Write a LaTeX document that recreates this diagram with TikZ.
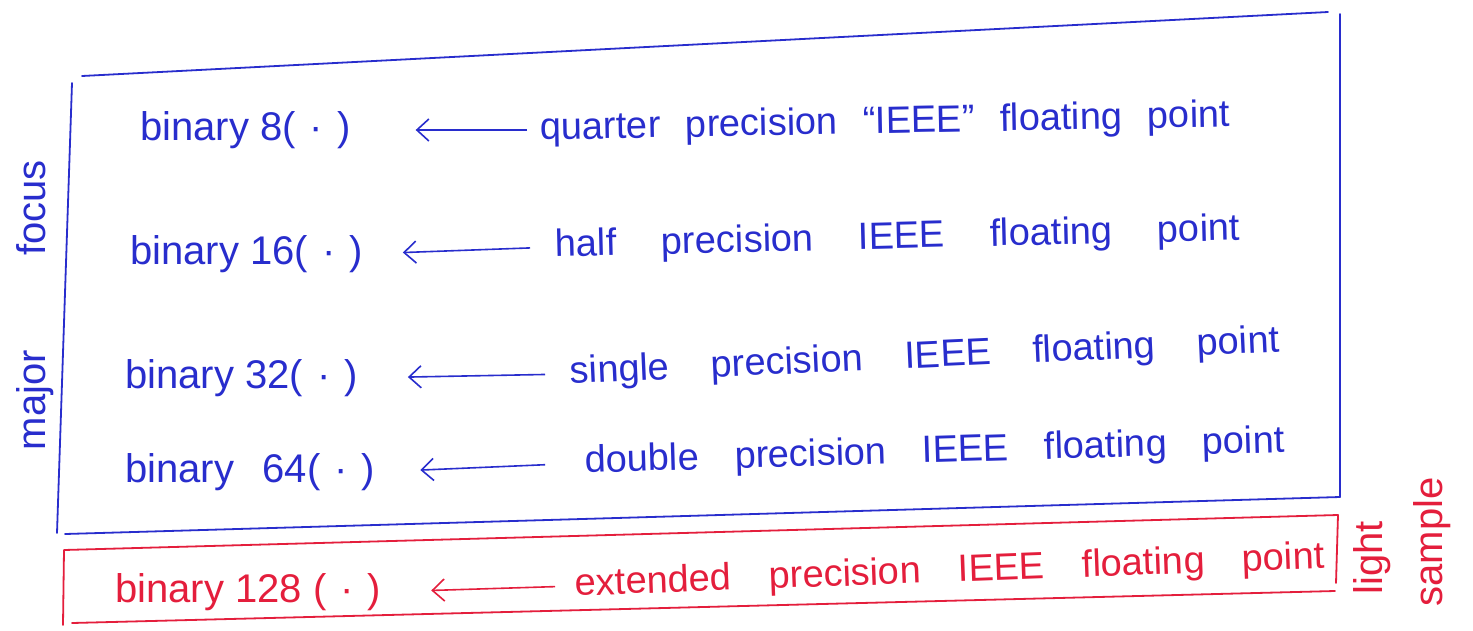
\documentclass[tikz,border=0pt]{standalone}
\usepackage{fontspec}
\setmainfont{Liberation Sans}
\usetikzlibrary{arrows.meta}
\definecolor{penblue}{RGB}{40,45,205}
\definecolor{penred}{RGB}{228,30,60}
\newcommand{\spread}[2]{\makebox[#1][s]{#2}}
\newcommand{\dotarg}{(\hspace{14pt}·\hspace{14pt})}
\begin{document}
\begin{tikzpicture}[x=1pt,y=-1pt,
  lbl/.style={anchor=west, inner sep=0pt, font=\fontsize{40}{46}\selectfont},
  desc/.style={anchor=west, inner sep=0pt, font=\fontsize{38}{44}\selectfont},
  side/.style={inner sep=0pt, rotate=90, font=\fontsize{40}{46}\selectfont},
  conn/.style={-{Straight Barb[length=12pt,width=22pt,line width=1.6pt]}, line width=1.6pt},
  frame/.style={line width=1.8pt, line cap=round, line join=round}]
\useasboundingbox[fill=white] (0,0) rectangle (1473,630);

% blue frame
\draw[frame,penblue] (82,76) -- (1328,12);
\draw[frame,penblue] (1340,14) -- (1340,497);
\draw[frame,penblue] (72,83) -- (57,533);
\draw[frame,penblue] (65,534) -- (1340,497);
% red frame
\draw[frame,penred] (63,625) -- (64,550) -- (1338,515) -- (1336,583);
\draw[frame,penred] (72,623) -- (1335,591);

% blue rows
\node[lbl,text=penblue] (l1) at (140,130) {binary 8\dotarg};
\node[desc,text=penblue,rotate=1.1] (r1) at (540,130) {\spread{690pt}{quarter precision ``IEEE'' floating point}};
\draw[conn,penblue,shorten <=13pt,shorten >=65pt] (r1.west) -- (l1.east);

\node[lbl,text=penblue] (l2) at (130,254) {binary 16\dotarg};
\node[desc,text=penblue,rotate=1.4] (r2) at (555,247) {\spread{685pt}{half precision IEEE floating point}};
\draw[conn,penblue,shorten <=25pt,shorten >=40pt] (r2.west) -- (l2.east);

\node[lbl,text=penblue] (l3) at (125,378) {binary 32\dotarg};
\node[desc,text=penblue,rotate=2.6] (r3) at (570,374) {\spread{710pt}{single precision IEEE floating point}};
\draw[conn,penblue,shorten <=25pt,shorten >=50pt] (r3.west) -- (l3.east);

\node[lbl,text=penblue] (l4) at (125,472) {\spread{250pt}{binary 64\dotarg}};
\node[desc,text=penblue,rotate=1.7] (r4) at (585,463) {\spread{700pt}{double precision IEEE floating point}};
\draw[conn,penblue,shorten <=40pt,shorten >=45pt] (r4.west) -- (l4.east);

% red row
\node[lbl,text=penred] (l5) at (115,592) {binary 128 \dotarg};
\node[desc,text=penred,rotate=2.1] (r5) at (575,586) {\spread{750pt}{extended precision IEEE floating point}};
\draw[conn,penred,shorten <=20pt,shorten >=50pt] (r5.west) -- (l5.east);

% side labels
\node[side,text=penblue] (mf) at (35,305) {\spread{290pt}{major focus}};
\node[side,text=penred] (lt) at (1372,558) {light};
\node[side,text=penred] (sp) at (1432,542) {sample};
\end{tikzpicture}
\end{document}
